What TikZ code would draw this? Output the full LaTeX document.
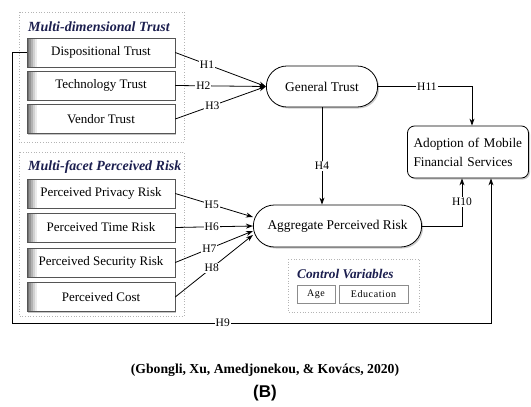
\documentclass[tikz,border=0pt]{standalone}
\usepackage{fontspec}
\setmainfont{Liberation Serif}
\newfontfamily\capsans{Liberation Sans}
\usetikzlibrary{arrows.meta,shapes.misc,shadows}
\definecolor{navy}{HTML}{1C1F4F}
\definecolor{frame}{HTML}{B4B4B4}
\definecolor{edge}{HTML}{555555}
\tikzset{
  group/.style={draw=frame, dotted, line width=0.7pt},
  gtitle/.style={font=\bfseries\itshape\fontsize{14}{16}\selectfont, text=navy, anchor=west, inner sep=0pt},
  factor/.style={draw=edge, line width=0.5pt, fill=white, minimum width=148pt, minimum height=29pt,
    font=\fontsize{13}{15}\selectfont,
    drop shadow={shadow xshift=1.3pt, shadow yshift=-1.3pt, fill=black!45},
    path picture={\foreach \s/\c in {0/55,2/42,4/30,6/18,8/8}
      \fill[black!\c] ([xshift=\s pt]path picture bounding box.south west)
        rectangle ([xshift=\s pt+2pt]path picture bounding box.north west);}},
  pill/.style={rounded rectangle, draw=black, line width=0.8pt, fill=white,
    font=\fontsize{13.4}{15}\selectfont,
    drop shadow={shadow xshift=1.5pt, shadow yshift=-1.5pt, fill=black!40}},
  outcome/.style={rectangle, rounded corners=7pt, draw=black, line width=0.8pt, fill=white,
    minimum width=121pt, minimum height=52pt, align=left, text width=109pt,
    font=\fontsize{13.3}{19}\selectfont,
    drop shadow={shadow xshift=1.5pt, shadow yshift=-1.5pt, fill=black!40}},
  ctrl/.style={draw=black!45, line width=0.5pt, fill=white, minimum height=18pt,
    font=\fontsize{10}{11}\selectfont\addfontfeature{LetterSpace=6},
    drop shadow={shadow xshift=1pt, shadow yshift=-1pt, fill=black!30}},
  arr/.style={-{Stealth[length=7pt,width=5pt]}, line width=0.8pt},
  hlab/.style={fill=white, inner sep=1pt, font=\fontsize{11.5}{12}\selectfont}
}
\begin{document}
\begin{tikzpicture}[x=1pt, y=-1pt]
  \useasboundingbox (0,0) rectangle (531,407);

  % groups
  \draw[group] (19,12) rectangle (184,142);
  \node[gtitle] at (28,27) {Multi-dimensional Trust};
  \draw[group] (19,152) rectangle (184,316);
  \node[gtitle] at (28,167) {Multi-facet Perceived Risk};
  \draw[group] (288,259) rectangle (419,312);
  \node[gtitle, font=\bfseries\itshape\fontsize{13.3}{15}\selectfont] at (297,274) {Control Variables};

  % trust factors
  \node[factor] (disp) at (101,52.5) {Dispositional Trust};
  \node[factor] (tech) at (101,85.5) {Technology Trust};
  \node[factor] (vend) at (101,119) {Vendor Trust};

  % risk factors
  \node[factor] (priv) at (101,193.5) {Perceived Privacy Risk};
  \node[factor] (time) at (101,227.5) {Perceived Time Risk};
  \node[factor] (sec)  at (101,262.5) {Perceived Security Risk};
  \node[factor] (cost) at (101,297) {Perceived Cost};

  % constructs
  \node[pill, minimum width=118pt, minimum height=41pt] (gt) at (322,86.5) {General Trust};
  \node[pill, minimum width=175pt, minimum height=42pt] (apr) at (337.5,226) {Aggregate Perceived Risk};
  \node[outcome] (amfs) at (468,152) {Adoption of Mobile\\Financial Services};

  % control variables
  \node[ctrl, minimum width=38pt] (age) at (316,294) {Age};
  \node[ctrl, minimum width=69pt] (edu) at (373.5,294) {Education};

  % hypotheses
  \draw[arr] (disp.east) -- node[hlab, pos=0.35] {H1} (gt.west);
  \draw[arr] (tech.east) -- node[hlab, pos=0.31] {H2} (gt.west);
  \draw[arr] (vend.east) -- node[hlab, pos=0.41] {H3} (gt.west);
  \draw[arr] (gt.south) -- node[hlab, pos=0.6] {H4} (gt.south |- apr.north);
  \draw[arr] (priv.east) -- node[hlab, pos=0.47] {H5} ([yshift=9pt]apr.west);
  \draw[arr] (time.east) -- node[hlab, pos=0.47] {H6} (apr.west);
  \draw[arr] (sec.east)  -- node[hlab, pos=0.44] {H7} ([yshift=-5pt]apr.west);
  \draw[arr] (cost.east) -- node[hlab, pos=0.47] {H8} ([yshift=-9pt]apr.west);

  \coordinate (h9l) at (12,323);
  \coordinate (h9r) at (491,323);
  \draw[arr] (disp.west) -| (h9l) -- node[hlab, pos=0.44] {H9} (h9r) -- (h9r |- amfs.south);
  \draw[arr] (apr.east) -| node[hlab, pos=0.75] {H10} ([xshift=-6pt]amfs.south);
  \draw[arr] (gt.east) -| node[hlab, pos=0.26] {H11} ([xshift=4pt]amfs.north);

  % caption
  \node[font=\bfseries\fontsize{13.7}{15}\selectfont] (src) at (265,370) {(Gbongli, Xu, Amedjonekou, \& Kovács, 2020)};
  \node[font=\capsans\bfseries\fontsize{17}{19}\selectfont] (tag) at (265,393) {(B)};
\end{tikzpicture}
\end{document}
